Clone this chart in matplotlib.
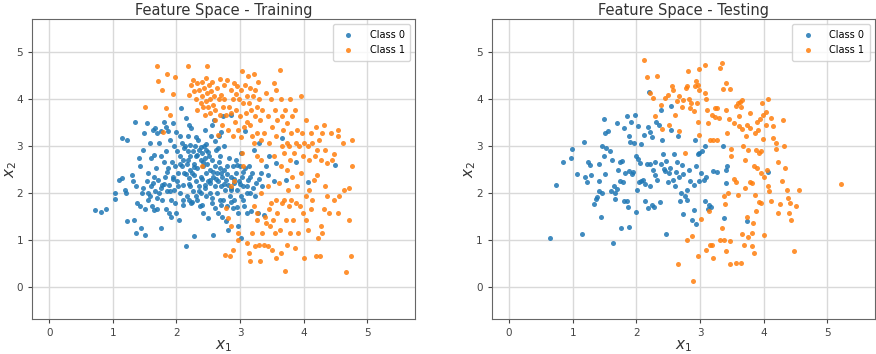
import matplotlib.pyplot as plt
import numpy as np

# Entrenamiento - clase 0
train0_x = [0.72, 0.81, 0.90, 1.03, 1.03, 1.10, 1.14, 1.14, 1.22, 1.20, 1.19, 1.23, 1.33, 1.30, 1.32,
            1.35, 1.36, 1.37, 1.38, 1.41, 1.42, 1.43, 1.44, 1.46, 1.47, 1.48, 1.49, 1.51, 1.51, 1.53,
            1.54, 1.55, 1.56, 1.58, 1.59, 1.60, 1.62, 1.63, 1.63, 1.64, 1.65, 1.66, 1.67, 1.68, 1.69,
            1.69, 1.71, 1.72, 1.73, 1.75, 1.75, 1.76, 1.77, 1.78, 1.80, 1.81, 1.82, 1.83, 1.84, 1.84,
            1.85, 1.86, 1.87, 1.88, 1.89, 1.90, 1.91, 1.91, 1.93, 1.94, 1.96, 1.96, 1.97, 1.98, 1.99,
            2.01, 2.01, 2.03, 2.04, 2.05, 2.05, 2.06, 2.07, 2.08, 2.09, 2.10, 2.10, 2.11, 2.12, 2.14,
            2.15, 2.16, 2.17, 2.18, 2.18, 2.19, 2.20, 2.21, 2.22, 2.22, 2.23, 2.23, 2.25, 2.26, 2.26,
            2.27, 2.28, 2.29, 2.30, 2.31, 2.31, 2.32, 2.33, 2.34, 2.35, 2.36, 2.37, 2.38, 2.39, 2.39,
            2.40, 2.41, 2.42, 2.43, 2.44, 2.44, 2.46, 2.47, 2.47, 2.48, 2.49, 2.50, 2.51, 2.52, 2.52,
            2.53, 2.54, 2.55, 2.56, 2.57, 2.58, 2.59, 2.60, 2.60, 2.61, 2.62, 2.63, 2.64, 2.65, 2.65,
            2.67, 2.68, 2.68, 2.69, 2.70, 2.71, 2.72, 2.73, 2.73, 2.74, 2.75, 2.76, 2.77, 2.78, 2.79,
            2.80, 2.81, 2.81, 2.82, 2.84, 2.85, 2.86, 2.86, 2.88, 2.89, 2.90, 2.91, 2.93, 2.94, 2.95,
            2.96, 2.97, 2.98, 2.99, 3.01, 3.02, 3.02, 3.03, 3.04, 3.06, 3.07, 3.08, 3.10, 3.11, 3.12,
            3.14, 3.15, 3.17, 3.19, 3.22, 3.23, 3.25, 3.28, 3.29, 3.32, 3.35, 3.37, 3.40, 3.44, 3.45,
            3.53, 3.56, 3.66, 3.72, 3.87, 4.06, 4.49,
            2.05, 2.12, 2.18, 2.22, 2.28, 2.33, 2.38, 2.42, 2.46, 2.50, 2.15, 2.20, 2.27, 2.35, 2.40,
            2.45, 2.52, 2.58, 2.62, 2.66, 2.70, 2.75, 2.80, 2.85, 2.90, 2.95, 3.00, 3.05, 3.10, 3.15,
            2.02, 1.95, 1.90, 1.85, 1.80, 1.75, 1.70, 1.65, 1.60, 1.55, 2.10, 2.25, 2.40, 2.55, 2.70,
            2.85, 2.95, 3.05, 3.20, 3.30, 2.30, 2.45, 2.60, 2.70, 2.20, 2.00, 1.95, 2.15, 2.55, 2.65]
train0_y = [1.63, 1.59, 1.66, 2.00, 1.87, 2.28, 2.32, 3.17, 3.13, 2.00, 2.07, 1.40, 1.43, 2.39, 2.25,
            3.51, 1.15, 2.14, 1.79, 2.74, 1.72, 2.57, 1.26, 2.00, 2.92, 2.11, 3.28, 1.11, 1.65, 3.50,
            2.25, 1.86, 2.43, 3.06, 1.93, 2.74, 1.72, 3.35, 2.21, 2.81, 1.63, 3.39, 2.04, 2.53, 3.28,
            1.65, 2.28, 3.06, 2.00, 2.78, 1.26, 3.31, 2.18, 1.86, 2.65, 3.52, 2.35, 1.65, 3.40, 2.89,
            2.04, 3.31, 2.53, 2.18, 1.57, 3.13, 1.86, 1.50, 2.67, 2.35, 2.99, 2.06, 1.79, 2.57, 1.57,
            2.89, 2.25, 2.43, 1.43, 3.21, 2.00, 2.78, 3.81, 2.57, 3.06, 2.18, 1.75, 2.71, 2.43, 2.99,
            0.87, 1.93, 2.61, 3.21, 2.89, 2.32, 1.86, 2.50, 2.78, 2.14, 3.38, 1.79, 2.43, 2.89, 2.04,
            2.61, 1.08, 2.99, 1.93, 2.25, 2.78, 1.86, 2.53, 3.13, 2.14, 2.92, 1.72, 2.71, 2.35, 2.00,
            2.85, 2.57, 1.57, 2.99, 2.18, 2.74, 2.43, 1.93, 2.92, 2.61, 2.25, 1.47, 2.78, 2.50, 2.00,
            2.28, 3.21, 1.79, 2.71, 1.11, 2.35, 3.56, 2.14, 2.57, 1.68, 2.92, 2.43, 2.00, 2.25, 1.57,
            3.21, 2.54, 1.86, 2.78, 2.14, 1.50, 2.35, 3.63, 1.86, 2.50, 2.99, 2.07, 2.28, 1.40, 2.57,
            1.72, 1.22, 2.18, 2.74, 1.93, 2.35, 3.67, 2.07, 1.68, 2.57, 2.21, 1.86, 2.71, 2.43, 2.07,
            1.29, 1.57, 2.25, 2.57, 1.93, 2.85, 1.04, 2.35, 2.14, 1.72, 3.31, 2.53, 2.00, 1.57, 2.28,
            2.57, 2.00, 1.61, 2.43, 2.92, 1.93, 2.21, 1.57, 3.06, 2.43, 2.14, 1.54, 2.57, 2.39, 2.78,
            2.25, 2.64, 3.17, 2.28, 2.67, 2.23, 2.59,
            2.62, 2.95, 2.70, 3.02, 2.55, 2.80, 2.98, 2.66, 3.05, 2.88, 2.40, 2.20, 2.38, 2.05, 2.30,
            2.10, 2.22, 2.45, 2.30, 2.65, 2.42, 2.20, 2.40, 2.10, 2.30, 2.60, 2.20, 2.45, 2.15, 2.35,
            2.15, 2.30, 2.05, 2.45, 2.20, 2.10, 1.90, 2.35, 2.15, 2.00, 1.85, 1.80, 1.75, 1.90, 1.75,
            1.80, 1.70, 1.85, 2.10, 2.30, 3.20, 3.35, 3.10, 3.30, 3.45, 3.30, 3.50, 3.60, 3.45, 2.95]

# Entrenamiento - clase 1
train1_x = [1.69, 1.71, 1.77, 1.85, 1.98, 1.94, 1.50, 1.83, 1.79, 1.90, 2.18, 2.48, 2.20, 2.23, 2.26,
            2.28, 2.30, 2.32, 2.33, 2.36, 2.38, 2.40, 2.40, 2.41, 2.43, 2.44, 2.46, 2.47, 2.48, 2.49,
            2.51, 2.52, 2.53, 2.54, 2.56, 2.57, 2.59, 2.60, 2.61, 2.64, 2.65, 2.67, 2.68, 2.69, 2.70,
            2.72, 2.73, 2.74, 2.75, 2.77, 2.80, 2.81, 2.82, 2.85, 2.86, 2.88, 2.89, 2.90, 2.92, 2.93,
            2.94, 2.95, 2.96, 2.98, 2.99, 3.01, 3.02, 3.03, 3.04, 3.06, 3.08, 3.09, 3.10, 3.11, 3.12,
            3.14, 3.15, 3.16, 3.17, 3.19, 3.20, 3.22, 3.23, 3.24, 3.26, 3.27, 3.28, 3.29, 3.31, 3.32,
            3.35, 3.37, 3.40, 3.43, 3.45, 3.48, 3.50, 3.53, 3.54, 3.56, 3.57, 3.58, 3.62, 3.64, 3.65,
            3.66, 3.68, 3.69, 3.71, 3.73, 3.74, 3.77, 3.79, 3.80, 3.82, 3.85, 3.86, 3.87, 3.90, 3.92,
            3.95, 3.97, 3.98, 4.00, 4.03, 4.06, 4.08, 4.11, 4.13, 4.17, 4.19, 4.21, 4.24, 4.27, 4.29,
            4.32, 4.34, 4.37, 4.42, 4.45, 4.53, 4.54, 4.62, 4.76, 4.76, 4.48,
            2.40, 2.77, 2.85, 2.90, 2.81, 2.85, 2.88, 2.76, 2.84, 2.96, 2.96, 3.03, 3.05, 3.11, 3.14,
            3.15, 3.19, 3.22, 3.23, 3.26, 3.27, 3.30, 3.31, 3.33, 3.35, 3.37, 3.39, 3.41, 3.43, 3.44,
            3.46, 3.47, 3.49, 3.50, 3.52, 3.54, 3.56, 3.57, 3.58, 3.61, 3.62, 3.64, 3.66, 3.69, 3.70,
            3.72, 3.74, 3.75, 3.77, 3.78, 3.80, 3.82, 3.83, 3.86, 3.87, 3.90, 3.91, 3.94, 3.95, 3.98,
            4.00, 4.03, 4.04, 4.06, 4.08, 4.11, 4.13, 4.16, 4.19, 4.21, 4.23, 4.25, 4.27, 4.29, 4.32,
            4.34, 4.36, 4.40, 4.48, 4.53, 4.56, 4.63, 4.71, 4.71, 4.74, 4.66,
            3.22, 3.27, 3.32, 3.53, 3.64, 3.74, 3.79]
train1_y = [4.70, 4.39, 4.20, 4.54, 4.46, 4.11, 3.84, 3.81, 3.29, 3.67, 4.70, 4.70, 4.09, 4.30, 4.41,
            4.16, 3.99, 4.34, 3.77, 4.20, 3.91, 4.37, 4.06, 3.84, 4.23, 3.67, 3.95, 4.45, 4.13, 3.84,
            4.30, 3.99, 3.70, 4.16, 4.37, 3.88, 4.06, 3.56, 3.77, 4.23, 3.24, 3.99, 4.43, 3.67, 4.09,
            3.45, 3.84, 4.30, 3.99, 3.67, 4.41, 3.35, 3.84, 4.20, 3.70, 3.21, 3.99, 4.34, 3.52, 4.11,
            3.77, 4.27, 3.33, 3.99, 3.63, 4.20, 3.19, 4.59, 3.91, 3.40, 4.30, 3.70, 4.06, 3.52, 4.50,
            3.91, 4.23, 3.45, 3.77, 3.21, 4.06, 4.54, 3.63, 4.20, 3.84, 3.28, 4.37, 3.99, 3.56, 3.13,
            3.77, 3.28, 4.13, 3.63, 3.06, 3.99, 3.40, 4.34, 3.77, 3.21, 4.20, 3.56, 4.61, 3.99, 2.99,
            3.63, 3.35, 2.85, 3.77, 3.06, 3.49, 2.99, 3.99, 3.28, 3.63, 2.85, 3.77, 3.06, 3.35, 2.99,
            4.06, 3.28, 2.78, 3.06, 3.56, 2.99, 2.71, 3.28, 3.06, 2.78, 3.40, 2.92, 3.13, 2.71, 3.28,
            3.45, 2.92, 2.64, 3.28, 2.71, 3.35, 3.21, 3.06, 3.13, 2.57, 2.82,
            2.57, 1.68, 2.14, 2.25, 1.47, 1.29, 0.79, 0.69, 0.65, 1.15, 1.01, 2.85, 2.57, 0.94, 0.72,
            0.55, 1.15, 1.72, 0.87, 1.57, 1.43, 0.90, 0.55, 2.00, 1.15, 0.90, 1.50, 1.36, 0.87, 2.14,
            1.65, 1.29, 1.79, 0.79, 1.43, 1.15, 0.62, 1.86, 1.57, 2.21, 1.22, 0.72, 1.79, 1.86, 0.33,
            1.43, 0.90, 2.07, 1.72, 1.15, 1.86, 2.35, 1.43, 0.83, 1.79, 2.14, 1.15, 1.72, 2.43, 1.57,
            0.62, 1.93, 1.43, 1.22, 2.07, 1.65, 1.86, 2.28, 0.65, 2.39, 1.04, 0.65, 1.29, 1.15, 1.65,
            2.14, 1.93, 1.57, 1.86, 1.57, 1.93, 2.07, 2.11, 1.43, 0.65, 0.31,
            3.06, 2.78, 2.71, 2.78, 2.57, 2.50, 2.71]

# Prueba - clase 0
test0_x = [0.65, 0.73, 0.85, 0.99, 0.98, 1.07, 1.15, 1.18, 1.19, 1.22, 1.24, 1.27, 1.28, 1.34, 1.36,
           1.38, 1.41, 1.41, 1.42, 1.44, 1.46, 1.46, 1.49, 1.49, 1.50, 1.51, 1.52, 1.56, 1.58, 1.60,
           1.62, 1.64, 1.65, 1.67, 1.67, 1.69, 1.70, 1.71, 1.74, 1.74, 1.76, 1.78, 1.79, 1.80, 1.81,
           1.82, 1.85, 1.86, 1.87, 1.88, 1.88, 1.89, 1.90, 1.92, 1.93, 1.95, 1.97, 1.98, 1.99, 2.00,
           2.01, 2.02, 2.02, 2.04, 2.05, 2.07, 2.08, 2.10, 2.12, 2.13, 2.14, 2.17, 2.19, 2.19, 2.20,
           2.21, 2.22, 2.22, 2.25, 2.25, 2.26, 2.28, 2.29, 2.30, 2.31, 2.33, 2.35, 2.37, 2.38, 2.39,
           2.41, 2.42, 2.43, 2.45, 2.47, 2.47, 2.49, 2.51, 2.53, 2.54, 2.55, 2.57, 2.59, 2.61, 2.62,
           2.64, 2.65, 2.67, 2.68, 2.70, 2.72, 2.73, 2.74, 2.76, 2.79, 2.80, 2.82, 2.84, 2.87, 2.90,
           2.91, 2.92, 2.93, 2.94, 2.96, 2.98, 2.99, 3.01, 3.03, 3.06, 3.07, 3.08, 3.10, 3.12, 3.14,
           3.17, 3.21, 3.26, 3.36, 3.38, 3.40, 3.41, 3.43, 3.74, 4.07]
test0_y = [1.05, 2.18, 2.67, 2.94, 2.74, 2.40, 1.13, 3.08, 2.35, 2.24, 2.66, 2.59, 2.38, 1.77, 1.87,
           1.92, 2.62, 2.25, 2.04, 1.50, 3.01, 2.01, 3.57, 2.78, 3.27, 2.40, 2.96, 3.31, 2.89, 2.05,
           2.71, 0.93, 2.14, 2.00, 1.88, 3.49, 2.09, 2.50, 2.25, 2.67, 1.26, 2.69, 2.24, 3.38, 1.83,
           2.43, 3.63, 1.82, 1.70, 2.46, 3.21, 1.28, 3.08, 3.52, 2.41, 2.44, 3.06, 3.65, 2.79, 1.60,
           2.07, 3.42, 2.72, 2.23, 2.64, 3.05, 2.25, 2.28, 3.23, 2.19, 1.82, 2.62, 3.40, 1.68, 4.14,
           2.61, 3.30, 2.14, 3.19, 1.74, 2.48, 1.70, 2.39, 2.65, 3.51, 2.28, 3.44, 1.81, 2.62, 3.77,
           3.13, 2.84, 2.51, 2.46, 1.13, 2.69, 2.23, 2.43, 2.53, 3.33, 3.86, 2.28, 2.84, 2.14, 2.45,
           2.67, 3.21, 2.35, 1.84, 2.00, 2.59, 1.55, 2.40, 1.94, 2.07, 1.86, 2.48, 2.25, 1.42, 2.18,
           1.63, 3.13, 2.57, 1.35, 2.82, 2.25, 2.85, 2.43, 2.89, 2.28, 1.84, 2.99, 2.35, 1.67, 1.74,
           1.70, 2.46, 2.45, 3.01, 1.47, 2.48, 2.21, 2.57, 1.40, 2.45]

# Prueba - clase 1
test1_x = [2.12, 2.16, 2.32, 2.22, 2.26, 2.30, 2.38, 2.41, 2.45, 2.50, 2.52, 2.56, 2.58, 2.61, 2.64,
           2.67, 2.67, 2.71, 2.73, 2.76, 2.78, 2.79, 2.80, 2.81, 2.83, 2.84, 2.85, 2.87, 2.66, 2.89,
           2.90, 2.92, 2.94, 2.95, 2.97, 2.97, 2.98, 2.98, 2.96, 2.98, 3.01, 3.07, 3.08, 3.10, 3.09,
           3.11, 3.13, 3.14, 3.15, 3.16, 3.18, 3.19, 3.20, 3.21, 3.23, 3.24, 3.26, 3.27, 3.29, 3.31,
           3.32, 3.34, 3.35, 3.36, 3.37, 3.38, 3.39, 3.40, 3.40, 3.41, 3.42, 3.44, 3.46, 3.47, 3.47,
           3.47, 3.48, 3.49, 3.53, 3.54, 3.56, 3.57, 3.57, 3.59, 3.60, 3.61, 3.61, 3.63, 3.65, 3.65,
           3.66, 3.66, 3.66, 3.67, 3.69, 3.70, 3.70, 3.72, 3.73, 3.74, 3.75, 3.76, 3.78, 3.78, 3.79,
           3.81, 3.82, 3.82, 3.83, 3.84, 3.85, 3.86, 3.87, 3.88, 3.88, 3.89, 3.90, 3.91, 3.92, 3.93,
           3.94, 3.95, 3.96, 3.96, 3.98, 3.99, 3.99, 4.00, 4.01, 4.03, 4.04, 4.05, 4.06, 4.07, 4.08,
           4.11, 4.12, 4.14, 4.15, 4.19, 4.20, 4.22, 4.23, 4.25, 4.28, 4.31, 4.32, 4.33, 4.37, 4.38,
           4.40, 4.42, 4.43, 4.47, 4.50, 4.56, 5.22]
test1_y = [4.83, 4.46, 4.48, 4.13, 4.02, 3.63, 3.88, 3.36, 4.02, 4.09, 3.45, 4.28, 4.20, 3.65, 3.95,
           4.06, 3.31, 3.84, 3.97, 2.85, 4.23, 0.99, 4.27, 4.59, 3.99, 3.81, 3.91, 1.08, 0.48, 0.12,
           3.74, 4.27, 4.38, 3.91, 4.30, 3.52, 4.64, 4.20, 0.67, 3.24, 1.45, 4.73, 4.13, 3.99, 0.78,
           3.77, 3.49, 1.61, 3.13, 0.89, 3.67, 0.89, 0.62, 3.13, 3.81, 3.62, 3.13, 3.81, 3.60, 4.66,
           0.99, 4.77, 1.26, 4.21, 1.93, 0.99, 1.77, 3.77, 0.76, 4.34, 3.28, 1.99, 3.58, 4.21, 0.97,
           0.49, 2.93, 2.78, 2.30, 3.48, 3.86, 2.23, 0.51, 3.91, 1.96, 3.43, 3.63, 3.94, 3.84, 0.51,
           3.36, 3.97, 1.13, 3.01, 0.90, 2.71, 2.11, 3.22, 1.50, 3.45, 2.92, 1.06, 2.23, 3.70, 3.38,
           0.87, 1.15, 2.21, 1.36, 0.72, 2.58, 3.28, 1.96, 2.92, 1.61, 2.53, 3.52, 3.35, 2.85, 1.80,
           3.57, 2.42, 2.89, 1.79, 3.92, 3.67, 3.15, 1.11, 2.35, 3.45, 3.72, 2.48, 3.99, 2.14, 2.04,
           3.60, 1.82, 3.42, 3.17, 2.94, 3.07, 1.57, 2.65, 1.76, 2.25, 3.55, 3.01, 2.53, 2.06, 1.89,
           1.57, 1.79, 1.42, 0.76, 1.73, 2.07, 2.19]

azul = '#1f77b4'
naranja = '#ff7f0e'

fig = plt.figure(figsize=(8.76, 3.54), dpi=100)
ax1 = fig.add_axes([0.0365, 0.099, 0.4375, 0.847])
ax2 = fig.add_axes([0.5615, 0.099, 0.4375, 0.847])

datos = [(ax1, train0_x, train0_y, train1_x, train1_y, 'Feature Space - Training'),
         (ax2, test0_x, test0_y, test1_x, test1_y, 'Feature Space - Testing')]

for ax, x0, y0, x1, y1, titulo in datos:
    ax.set_axisbelow(True)
    ax.grid(True, color='#d9d9d9', linewidth=1.0)
    ax.scatter(x0, y0, s=13, color=azul, alpha=0.85, linewidths=0, label='Class 0')
    ax.scatter(x1, y1, s=13, color=naranja, alpha=0.85, linewidths=0, label='Class 1')
    ax.set_xlim(-0.27, 5.75)
    ax.set_ylim(-0.68, 5.70)
    ax.set_xticks([0, 1, 2, 3, 4, 5])
    ax.set_yticks([0, 1, 2, 3, 4, 5])
    ax.tick_params(labelsize=7.5, colors='#444444', length=3)
    for sp in ax.spines.values():
        sp.set_color('#666666')
    ax.set_title(titulo, fontsize=10.5, color='#333333', pad=3)
    ax.set_xlabel('$x_1$', fontsize=11, labelpad=0, color='#333333')
    ax.set_ylabel('$x_2$', fontsize=11, color='#333333')
    ax.yaxis.set_label_coords(-0.035, 0.5)
    ax.legend(loc='upper right', fontsize=7, markerscale=1.0, handletextpad=1.2,
              borderpad=0.6, framealpha=0.8)

plt.savefig('out.png', dpi=100)
